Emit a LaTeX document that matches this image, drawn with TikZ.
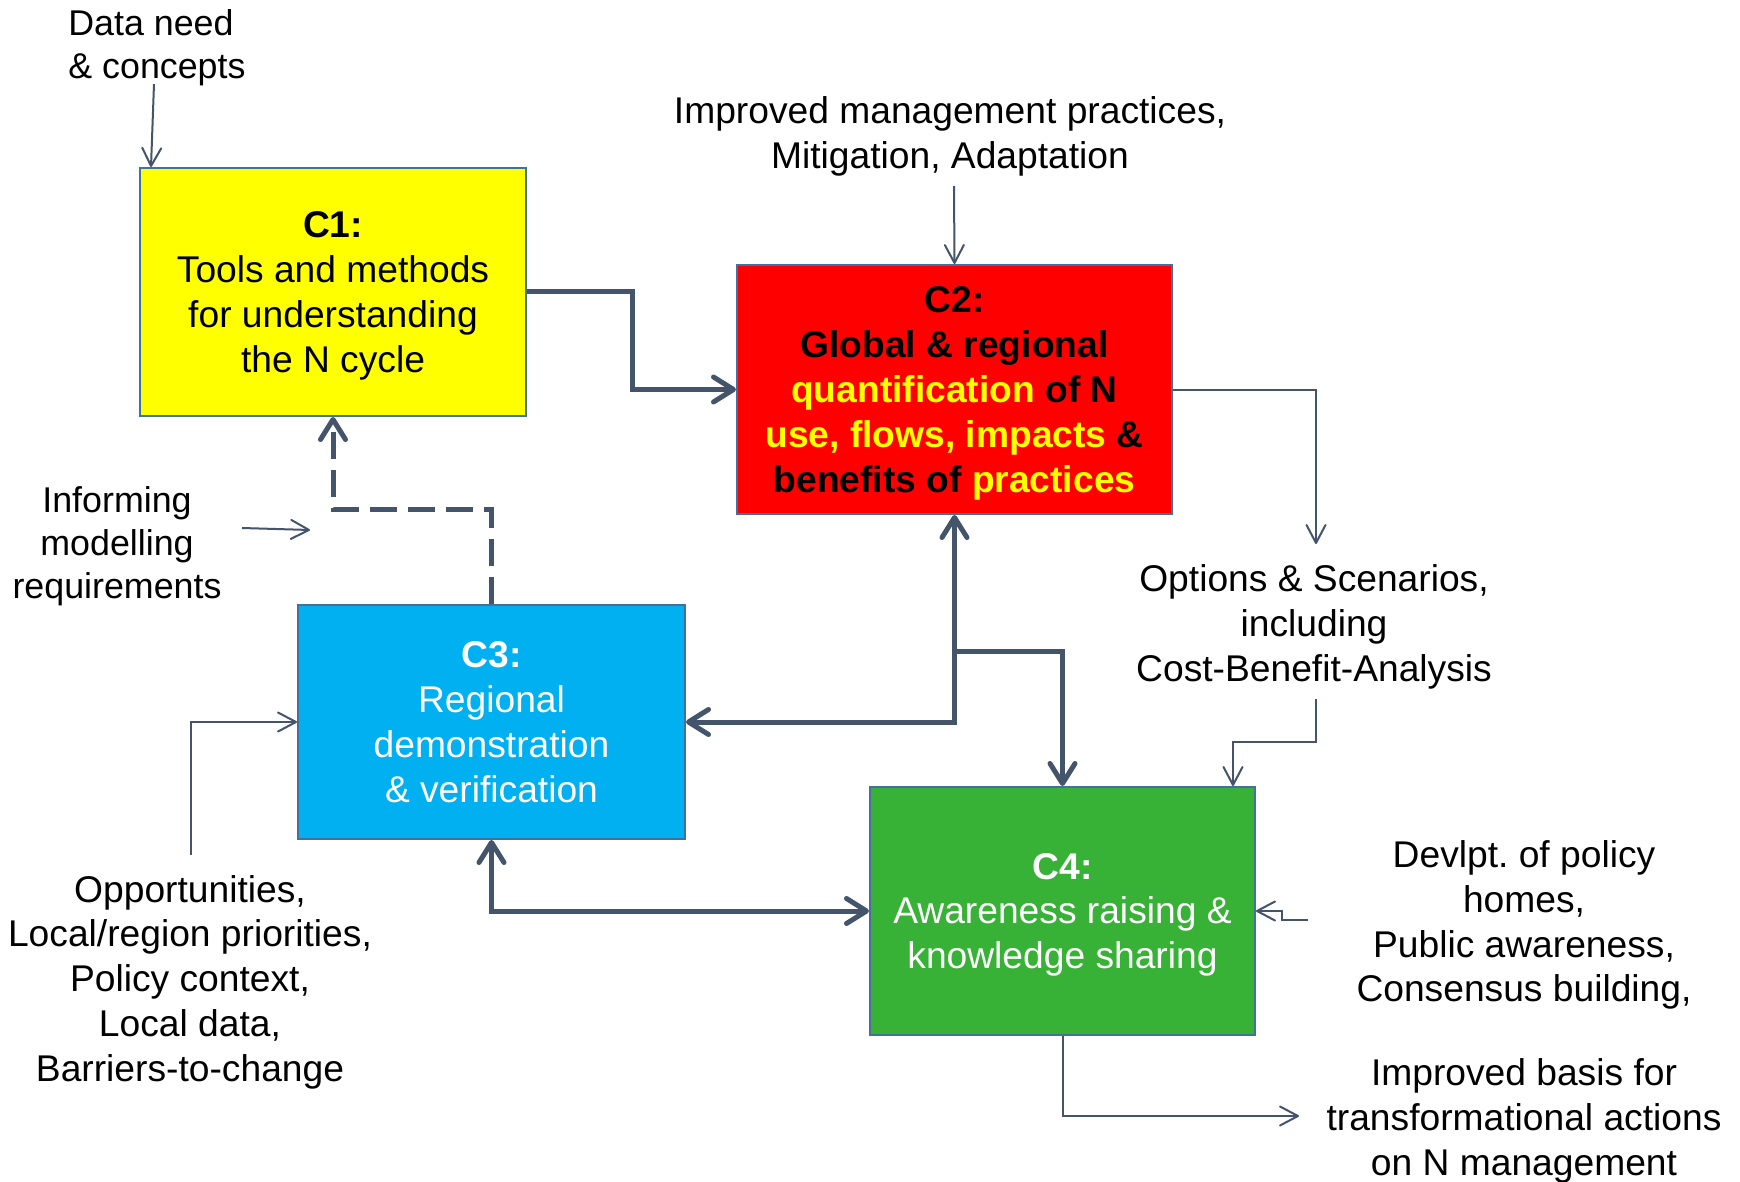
\documentclass[tikz,border=0pt]{standalone}
\usepackage{fontspec}
\setmainfont{Liberation Sans}
\usetikzlibrary{arrows.meta,calc}
\definecolor{linegray}{RGB}{68,84,106}
\definecolor{boxedge}{RGB}{65,113,156}
\definecolor{cyellow}{RGB}{255,255,0}
\definecolor{cred}{RGB}{255,0,0}
\definecolor{cblue}{RGB}{0,176,240}
\definecolor{cgreen}{RGB}{55,177,54}
\newcommand{\lblsize}{\fontsize{18.6pt}{22.4pt}\selectfont}
\newcommand{\smlsize}{\fontsize{17.9pt}{21.6pt}\selectfont}
\newcommand{\hl}[1]{\textcolor{cyellow}{#1}}

\begin{document}
\begin{tikzpicture}[x=0.5pt,y=-0.5pt,
    comp/.style={draw=boxedge, line width=1pt, inner sep=0pt, align=center, font=\lblsize, text depth=0pt},
    note/.style={inner sep=0pt, align=center, font=\lblsize},
    flow/.style={draw=linegray, line width=2.5pt, >={Straight Barb[round,length=10pt,width=12.5pt]}},
    feed/.style={draw=linegray, line width=1pt, >={Straight Barb[round,length=9pt,width=9.5pt]}}]
            \path[fill=white,use as bounding box] (0,0) rectangle (1740,1182);
            \node[comp, fill=cyellow, minimum width=193pt, minimum height=124pt] (c1) at (333,292) {\textbf{C1:}\\Tools and methods\\for understanding\\the N cycle};
            \node[comp, fill=cred, minimum width=217.5pt, minimum height=124.5pt, font=\lblsize\bfseries] (c2) at (954.5,389.5) {C2:\\Global \& regional\\\hl{quantification} of N\\\hl{use, flows, impacts} \&\\benefits of \hl{practices}};
            \node[comp, fill=cblue, text=white, minimum width=193.5pt, minimum height=117pt] (c3) at (491.5,722) {\textbf{C3:}\\Regional\\demonstration\\\& verification};
            \node[comp, fill=cgreen, text=white, minimum width=192.5pt, minimum height=124pt] (c4) at (1062.5,911) {\textbf{C4:}\\Awareness raising \&\\knowledge sharing};
            \node[note, align=left, anchor=west, font=\smlsize] (data) at (68,48) {Data need\\\& concepts};
            \node[note] (mgmt) at (950,136) {Improved management practices,\\Mitigation, Adaptation};
            \node[note] (opts) at (1314,627) {Options \& Scenarios,\\including\\Cost-Benefit-Analysis};
            \node[note, font=\smlsize] (inform) at (117,546) {Informing\\modelling\\requirements};
            \node[note] (opps) at (190,982) {Opportunities,\\Local/region priorities,\\Policy context,\\Local data,\\Barriers-to-change};
            \node[note] (policy) at (1524,925) {Devlpt.\ of policy\\homes,\\Public awareness,\\Consensus building,};
            \node[note] (basis) at (1524,1121) {Improved basis for\\transformational actions\\on N management};
            \coordinate (split) at ($(c2.south)+(0,136)$);
            \coordinate (dataend) at (154,84);
            \coordinate (mgmtend) at (954,186);
            \coordinate (optin) at (1316,544);
            \coordinate (optout) at (1316,699);
            \coordinate (inform1) at (242,528);
            \coordinate (inform2) at (310,530);
            \coordinate (oppsend) at (191,855);
            \coordinate (policyend) at (1308,920);
            \coordinate (basisend) at (1299,1116);
            \draw[flow,->] (c1.east) -- ++(105,0) |- (c2.west);
            \draw[flow,<->] (c3.east) -| (c2.south);
            \draw[flow,->] (split) -| (c4.north);
            \draw[flow,<->] (c3.south) |- (c4.west);
            \draw[flow,->,dash pattern=on 13.5pt off 5.5pt] (c3.north) -- ++(0,-95) -| (c1.south);
            \draw[feed,->] (dataend) -- ($(c1.north west)+(12,0)$);
            \draw[feed,->] (mgmtend) -- (c2.north);
            \draw[feed,->] (c2.east) -| (optin);
            \draw[feed,->] (optout) -- ++(0,43) -| ($(c4.north east)+(-23,0)$);
            \draw[feed,->] (inform1) -- (inform2);
            \draw[feed,->] (oppsend) |- (c3.west);
            \draw[feed,->] (policyend) -- ++(-26,0) |- (c4.east);
            \draw[feed,->] (c4.south) |- (basisend);
        \end{tikzpicture}
\end{document}
